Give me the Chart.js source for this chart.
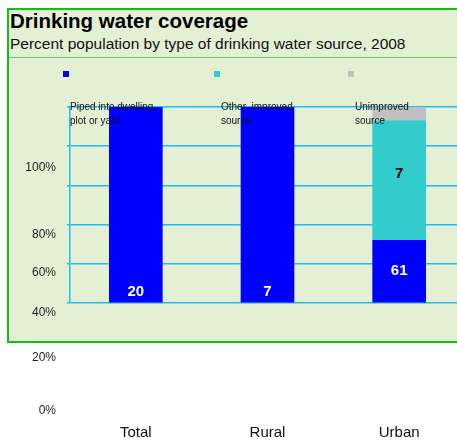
<!DOCTYPE html>
<html>
<head>
<meta charset="utf-8">
<script src="https://cdn.jsdelivr.net/npm/chart.js@4/dist/chart.umd.min.js"></script>
<style>
  html, body { margin: 0; padding: 0; background: #fff; overflow: hidden; }
  #wrap { position: relative; width: 457px; height: 441px; overflow: hidden; font-family: "Liberation Sans", Arial, sans-serif; }
  #panel { position: absolute; left: 7px; top: 8px; width: 450px; height: 335px; background: #E4F0D4; border: 2px solid #11C011; border-right: none; box-sizing: border-box; }
  #sep { position: absolute; left: 9px; top: 57px; width: 448px; height: 0; border-top: 1px solid #66CC66; }
  #title { position: absolute; left: 10px; top: 9px; font-size: 20.5px; font-weight: bold; color: #000; }
  #subtitle { position: absolute; left: 10px; top: 35px; font-size: 15.5px; color: #111; }
  canvas { position: absolute; left: 0; top: 0; }
</style>
</head>
<body>
<div id="wrap">
  <div id="panel"></div>
  <div id="sep"></div>
  <div id="title">Drinking water coverage</div>
  <div id="subtitle">Percent population by type of drinking water source, 2008</div>
  <canvas id="grafica"></canvas>
</div>
<script>
// datos
var categorias = ['Total', 'Rural', 'Urban'];
var series = ['Piped into dwelling, plot or yard', 'Other improved source', 'Unimproved source'];
var piped = [100, 100, 32];
var otherImproved = [0, 0, 61];
var unimproved = [0, 0, 7];
var etiquetasPiped = ['20', '7', '61'];
var etiquetasOther = ['', '', '7'];
var etiquetasUnimp = ['', '', ''];
var yTickLabels = ['100%', '80%', '60%', '40%', '20%', '0%'];

var colores = ['#0000FF', '#33CCCC', '#C0C0C0'];

// posiciones de las etiquetas del eje y (desplazadas como en la imagen)
var yLabelPos = [168, 235, 273, 313, 358, 411];
var legendPos = [63, 214, 348];
var legendLines = [['Piped into dwelling,', 'plot or yard'], ['Other  improved', 'source'], ['Unimproved', 'source']];

var extras = {
  id: 'extras',
  afterDraw: function(chart) {
    var ctx = chart.ctx;
    ctx.save();
    // etiquetas eje y
    ctx.font = '12px "Liberation Sans", Arial, sans-serif';
    ctx.fillStyle = '#222';
    ctx.textAlign = 'right';
    ctx.textBaseline = 'middle';
    yTickLabels.forEach(function(t, i) { ctx.fillText(t, 56, yLabelPos[i]); });

    // etiquetas eje x
    var xs = chart.scales.x;
    ctx.textAlign = 'center';
    ctx.font = '15px "Liberation Sans", Arial, sans-serif';
    ctx.fillStyle = '#111';
    categorias.forEach(function(c, i) { ctx.fillText(c, xs.getPixelForValue(i), 433); });

    // leyenda
    ctx.textAlign = 'left';
    ctx.font = '10px "Liberation Sans", Arial, sans-serif';
    chart.data.datasets.forEach(function(ds, i) {
      var x = legendPos[i];
      ctx.fillStyle = ds.backgroundColor;
      ctx.fillRect(x, 71, 6, 6);
      ctx.fillStyle = '#111';
      ctx.fillText(legendLines[i][0], x + 7, 107);
      ctx.fillText(legendLines[i][1], x + 7, 121);
    });

    // etiquetas de datos
    var textos = [etiquetasPiped, etiquetasOther, etiquetasUnimp];
    ctx.textAlign = 'center';
    ctx.font = 'bold 15px "Liberation Sans", Arial, sans-serif';
    chart.data.datasets.forEach(function(ds, i) {
      var meta = chart.getDatasetMeta(i);
      meta.data.forEach(function(bar, j) {
        var t = textos[i][j];
        if (!t) return;
        var h = bar.base - bar.y;
        var y = h > 150 ? bar.base - 10 : (bar.y + bar.base) / 2 - (i === 1 ? 7 : 0);
        ctx.fillStyle = i === 0 ? '#fff' : '#000';
        ctx.fillText(t, bar.x, y);
      });
    });
    ctx.restore();
  }
};

var canvas = document.getElementById('grafica');
canvas.width = 465;
canvas.height = 441;

var grafico = new Chart(canvas.getContext('2d'), {
  type: 'bar',
  data: {
    labels: categorias,
    datasets: [
      { label: series[0], data: piped, backgroundColor: colores[0] },
      { label: series[1], data: otherImproved, backgroundColor: colores[1] },
      { label: series[2], data: unimproved, backgroundColor: colores[2] }
    ]
  },
  options: {
    responsive: false,
    animation: false,
    barThickness: 53,
    layout: { padding: { top: 107, left: 0, right: 0, bottom: 0 } },
    plugins: { legend: { display: false }, tooltip: { enabled: false } },
    scales: {
      x: {
        stacked: true,
        afterFit: function(s) { s.height = 138; },
        grid: { display: false, drawTicks: false },
        border: { display: false },
        ticks: { display: false }
      },
      y: {
        stacked: true,
        min: 0,
        max: 100,
        afterFit: function(s) { s.width = 70; },
        ticks: { stepSize: 20, display: false },
        grid: { color: '#22BBEE', lineWidth: 1.5, tickLength: 3 },
        border: { color: '#22BBEE', width: 1.5 }
      }
    }
  },
  plugins: [extras]
});
</script>
</body>
</html>
